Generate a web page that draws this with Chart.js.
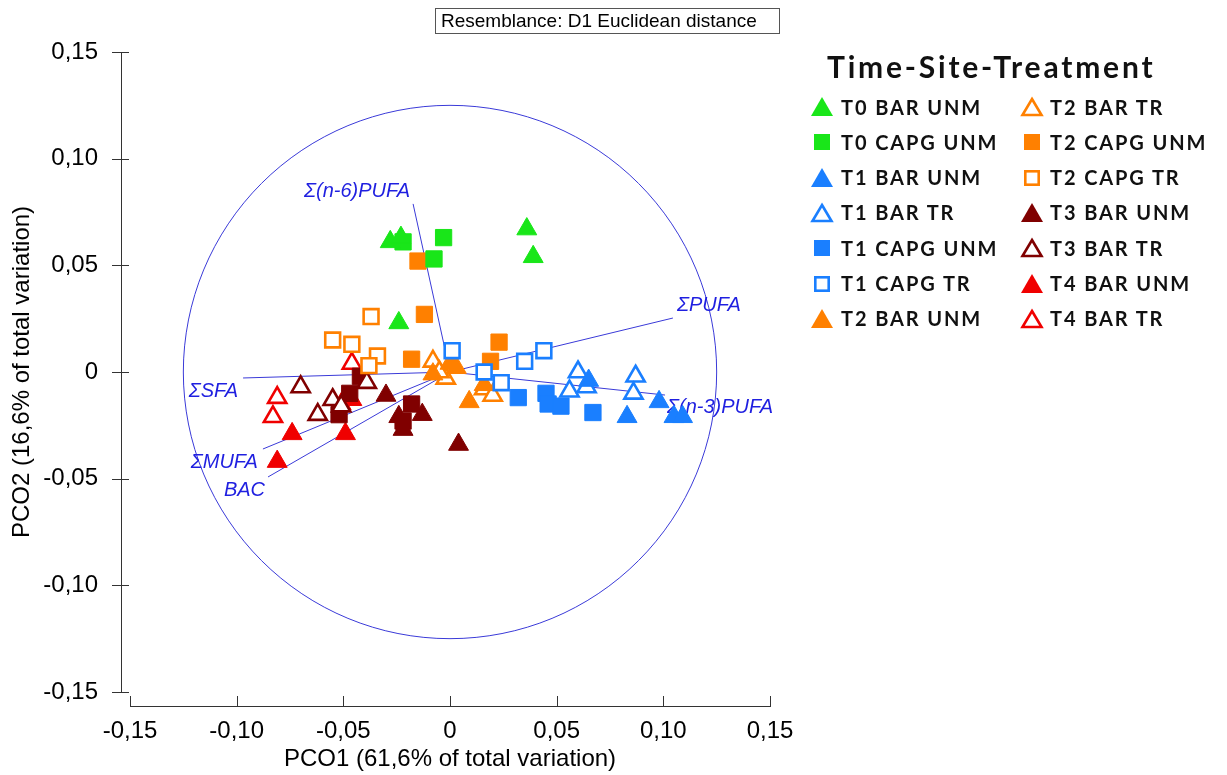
<!DOCTYPE html>
<html>
<head>
<meta charset="utf-8">
<script src="https://cdn.jsdelivr.net/npm/chart.js@4.4.1/dist/chart.umd.min.js"></script>
<style>
  html, body { margin: 0; padding: 0; background: #fff; }
  #wrap { position: relative; width: 1227px; height: 775px; overflow: hidden; }
  #pco { position: absolute; left: 0; top: 0; }
  #resemblance {
    position: absolute; left: 435px; top: 8px; width: 345px; height: 26px;
    box-sizing: border-box; border: 1px solid #555; padding-left: 5px;
    font: 19px "Liberation Sans", Arial, sans-serif; line-height: 24px; color: #000;
  }
  #legendTitle {
    position: absolute; left: 827px; top: 48px;
    font: 700 30px Lato, "DejaVu Sans", sans-serif; letter-spacing: 2.8px; color: #111;
  }
  .item { position: absolute; height: 26px; display: flex; align-items: center;
          font: 700 20px Lato, "DejaVu Sans", sans-serif; letter-spacing: 1.9px; color: #111; white-space: nowrap; }
  .item svg { display: block; }
</style>
</head>
<body>
<div id="wrap">
  <canvas id="pco" width="1227" height="775"></canvas>
  <div id="resemblance">Resemblance: D1 Euclidean distance</div>
  <div id="legendTitle">Time-Site-Treatment</div>
  <div id="legend"></div>
</div>
<script>
// sample scores [PCO1, PCO2]
const t0BarUnm  = [[-0.028, 0.061], [-0.023, 0.063], [0.036, 0.067], [0.039, 0.054], [-0.024, 0.023]]
const t0CapgUnm = [[-0.022, 0.061], [-0.003, 0.063], [-0.0075, 0.053]]
const t1BarUnm  = [[0.065, -0.004], [0.083, -0.021], [0.098, -0.014], [0.105, -0.021], [0.109, -0.021]]
const t1BarTr   = [[0.060, 0.000], [0.056, -0.009], [0.064, -0.007], [0.087, -0.002], [0.086, -0.010]]
const t1CapgUnm = [[0.032, -0.012], [0.045, -0.010], [0.046, -0.015], [0.052, -0.016], [0.067, -0.019]]
const t1CapgTr  = [[0.001, 0.010], [0.035, 0.005], [0.044, 0.010], [0.016, 0.000], [0.024, -0.005]]
const t2BarUnm  = [[0.000, 0.004], [-0.008, -0.001], [0.009, -0.014], [0.016, -0.006], [0.003, 0.002]]
const t2BarTr   = [[-0.008, 0.005], [-0.002, -0.003], [0.016, -0.008], [0.020, -0.011], [-0.005, 0.000]]
const t2CapgUnm = [[-0.015, 0.052], [-0.012, 0.027], [-0.018, 0.006], [0.023, 0.014], [0.019, 0.005]]
const t2CapgTr  = [[-0.037, 0.026], [-0.055, 0.015], [-0.046, 0.013], [-0.034, 0.0075], [-0.038, 0.003]]
const t3BarUnm  = [[-0.030, -0.011], [-0.024, -0.021], [-0.022, -0.027], [-0.013, -0.020], [0.004, -0.034]]
const t3BarTr   = [[-0.070, -0.007], [-0.062, -0.020], [-0.055, -0.013], [-0.039, -0.005], [-0.051, -0.016]]
const t3CapgUnm = [[-0.042, -0.002], [-0.047, -0.010], [-0.052, -0.020], [-0.018, -0.015], [-0.022, -0.023]]
const t4BarUnm  = [[-0.074, -0.029], [-0.049, -0.029], [-0.081, -0.042], [-0.051, -0.015], [-0.046, -0.013]]
const t4BarTr   = [[-0.081, -0.012], [-0.083, -0.021], [-0.046, 0.004]]

// vector overlay (end points) and correlation circle
const vectorNames = ['Σ(n-6)PUFA', 'ΣPUFA', 'Σ(n-3)PUFA', 'ΣSFA', 'ΣMUFA', 'BAC']
const vectorX = [-0.0173, 0.1045, 0.1008, -0.097, -0.0877, -0.0853]
const vectorY = [0.0788, 0.0253, -0.0108, -0.0028, -0.0361, -0.0492]
const circleRadius = 0.125

const axisTicks = [-0.15, -0.10, -0.05, 0, 0.05, 0.10, 0.15]

const GREEN = '#19e619', BLUE = '#1a7fff', ORANGE = '#ff8000', DARK = '#800000', RED = '#f00000'

// label, points, colour, shape, filled, in legend
const groups = [
  ['T0 BAR UNM', t0BarUnm, GREEN, 'triangle', true, true],
  ['T0 CAPG UNM', t0CapgUnm, GREEN, 'rect', true, true],
  ['T1 BAR UNM', t1BarUnm, BLUE, 'triangle', true, true],
  ['T1 BAR TR', t1BarTr, BLUE, 'triangle', false, true],
  ['T1 CAPG UNM', t1CapgUnm, BLUE, 'rect', true, true],
  ['T1 CAPG TR', t1CapgTr, BLUE, 'rect', false, true],
  ['T2 BAR UNM', t2BarUnm, ORANGE, 'triangle', true, true],
  ['T2 BAR TR', t2BarTr, ORANGE, 'triangle', false, true],
  ['T2 CAPG UNM', t2CapgUnm, ORANGE, 'rect', true, true],
  ['T2 CAPG TR', t2CapgTr, ORANGE, 'rect', false, true],
  ['T3 BAR UNM', t3BarUnm, DARK, 'triangle', true, true],
  ['T3 BAR TR', t3BarTr, DARK, 'triangle', false, true],
  ['T3 CAPG UNM', t3CapgUnm, DARK, 'rect', true, false],
  ['T4 BAR UNM', t4BarUnm, RED, 'triangle', true, true],
  ['T4 BAR TR', t4BarTr, RED, 'triangle', false, true]
]

function fmt(v) {
  if (Math.abs(v) < 1e-9) return '0'
  return v.toFixed(2).replace('.', ',')
}

const datasets = groups.map(g => ({
  label: g[0],
  data: g[1].map(p => ({ x: p[0], y: p[1] })),
  pointStyle: g[3],
  pointRadius: g[4] ? 11.5 : 10.5,
  borderWidth: g[4] ? 1 : 2.6,
  borderColor: g[2],
  backgroundColor: g[4] ? g[2] : '#ffffff',
  showLine: false
}))

// label offsets for the vector names: [dx, dy, align]
const vectorLabelPos = [[-3, -12, 'right'], [4, -13, 'left'], [2, 12, 'left'], [-5, 13, 'right'], [-5, 13, 'right'], [-3, 13, 'right']]

const overlay = {
  id: 'overlay',
  beforeDatasetsDraw(chart) {
    const { ctx } = chart
    const x = chart.scales.x, y = chart.scales.y
    const ox = x.getPixelForValue(0), oy = y.getPixelForValue(0)
    const r = x.getPixelForValue(circleRadius) - ox
    ctx.save()
    ctx.strokeStyle = '#3a3ad8'
    ctx.lineWidth = 1
    ctx.beginPath()
    ctx.arc(ox, oy, r, 0, Math.PI * 2)
    ctx.stroke()
    ctx.font = 'italic 20px "Liberation Sans", Arial, sans-serif'
    ctx.fillStyle = '#1f1fe0'
    ctx.textBaseline = 'middle'
    vectorNames.forEach((name, i) => {
      const ex = x.getPixelForValue(vectorX[i]), ey = y.getPixelForValue(vectorY[i])
      ctx.beginPath()
      ctx.moveTo(ox, oy)
      ctx.lineTo(ex, ey)
      ctx.stroke()
      const pos = vectorLabelPos[i]
      ctx.textAlign = pos[2]
      ctx.fillText(name, ex + pos[0], ey + pos[1])
    })
    ctx.restore()
  },
  afterDraw(chart) {
    // detached axes, PRIMER style
    const { ctx, chartArea } = chart
    const x = chart.scales.x, y = chart.scales.y
    const ax = chartArea.left - 9
    const ay = chartArea.bottom + 14
    ctx.save()
    ctx.strokeStyle = '#333'
    ctx.lineWidth = 1
    ctx.beginPath()
    ctx.moveTo(ax + 0.5, y.getPixelForValue(axisTicks[axisTicks.length - 1]))
    ctx.lineTo(ax + 0.5, y.getPixelForValue(axisTicks[0]))
    axisTicks.forEach(t => {
      const py = Math.round(y.getPixelForValue(t)) + 0.5
      ctx.moveTo(ax - 9, py)
      ctx.lineTo(ax + 8, py)
    })
    ctx.moveTo(x.getPixelForValue(axisTicks[0]), ay + 0.5)
    ctx.lineTo(x.getPixelForValue(axisTicks[axisTicks.length - 1]), ay + 0.5)
    axisTicks.forEach(t => {
      const px = Math.round(x.getPixelForValue(t)) + 0.5
      ctx.moveTo(px, ay - 10)
      ctx.lineTo(px, ay + 1)
    })
    ctx.stroke()
    ctx.restore()
  }
}

const tickFont = { family: '"Liberation Sans", Arial, sans-serif', size: 24 }

new Chart(document.getElementById('pco').getContext('2d'), {
  type: 'scatter',
  data: { datasets: datasets },
  options: {
    responsive: false,
    animation: false,
    events: [],
    layout: { padding: { left: 0, top: 52, right: 457, bottom: 0 } },
    plugins: {
      legend: { display: false },
      tooltip: { enabled: false }
    },
    scales: {
      x: {
        type: 'linear', min: -0.15, max: 0.15,
        grid: { display: false }, border: { display: false },
        afterBuildTicks: s => { s.ticks = axisTicks.map(v => ({ value: v })) },
        ticks: { padding: 17, color: '#000', font: tickFont, maxRotation: 0, callback: fmt },
        title: { display: true, text: 'PCO1 (61,6% of total variation)', color: '#000', font: tickFont, padding: { top: 0, bottom: 1 } },
        afterFit: s => { s.height = 83 }
      },
      y: {
        type: 'linear', min: -0.15, max: 0.15,
        grid: { display: false }, border: { display: false },
        afterBuildTicks: s => { s.ticks = axisTicks.map(v => ({ value: v })) },
        ticks: { padding: 24, color: '#000', font: tickFont, callback: fmt },
        title: { display: true, text: 'PCO2 (16,6% of total variation)', color: '#000', font: tickFont, padding: { top: 8, bottom: 0 } },
        afterFit: s => { s.width = 130 }
      }
    }
  },
  plugins: [overlay]
})

// legend, two columns of seven
function marker(color, shape, filled) {
  if (shape === 'triangle') {
    return filled
      ? `<svg width="24" height="21"><polygon points="12,1 23,20 1,20" fill="${color}"/></svg>`
      : `<svg width="24" height="21"><polygon points="12,3 21.5,19 2.5,19" fill="#fff" stroke="${color}" stroke-width="2.6"/></svg>`
  }
  return filled
    ? `<svg width="24" height="21"><rect x="4" y="3" width="16" height="16" fill="${color}"/></svg>`
    : `<svg width="24" height="21"><rect x="5.3" y="4.3" width="13.4" height="13.4" fill="#fff" stroke="${color}" stroke-width="2.6"/></svg>`
}
const legendEl = document.getElementById('legend')
groups.filter(g => g[5]).forEach((g, i) => {
  const col = i < 7 ? 0 : 1
  const row = i % 7
  const div = document.createElement('div')
  div.className = 'item'
  div.style.left = (col === 0 ? 810 : 1020) + 'px'
  div.style.top = (106.5 + row * 35.3 - 13) + 'px'
  div.innerHTML = marker(g[2], g[3], g[4]) + `<span style="margin-left:${col === 0 ? 7 : 6}px">${g[0]}</span>`
  legendEl.appendChild(div)
})
</script>
</body>
</html>
